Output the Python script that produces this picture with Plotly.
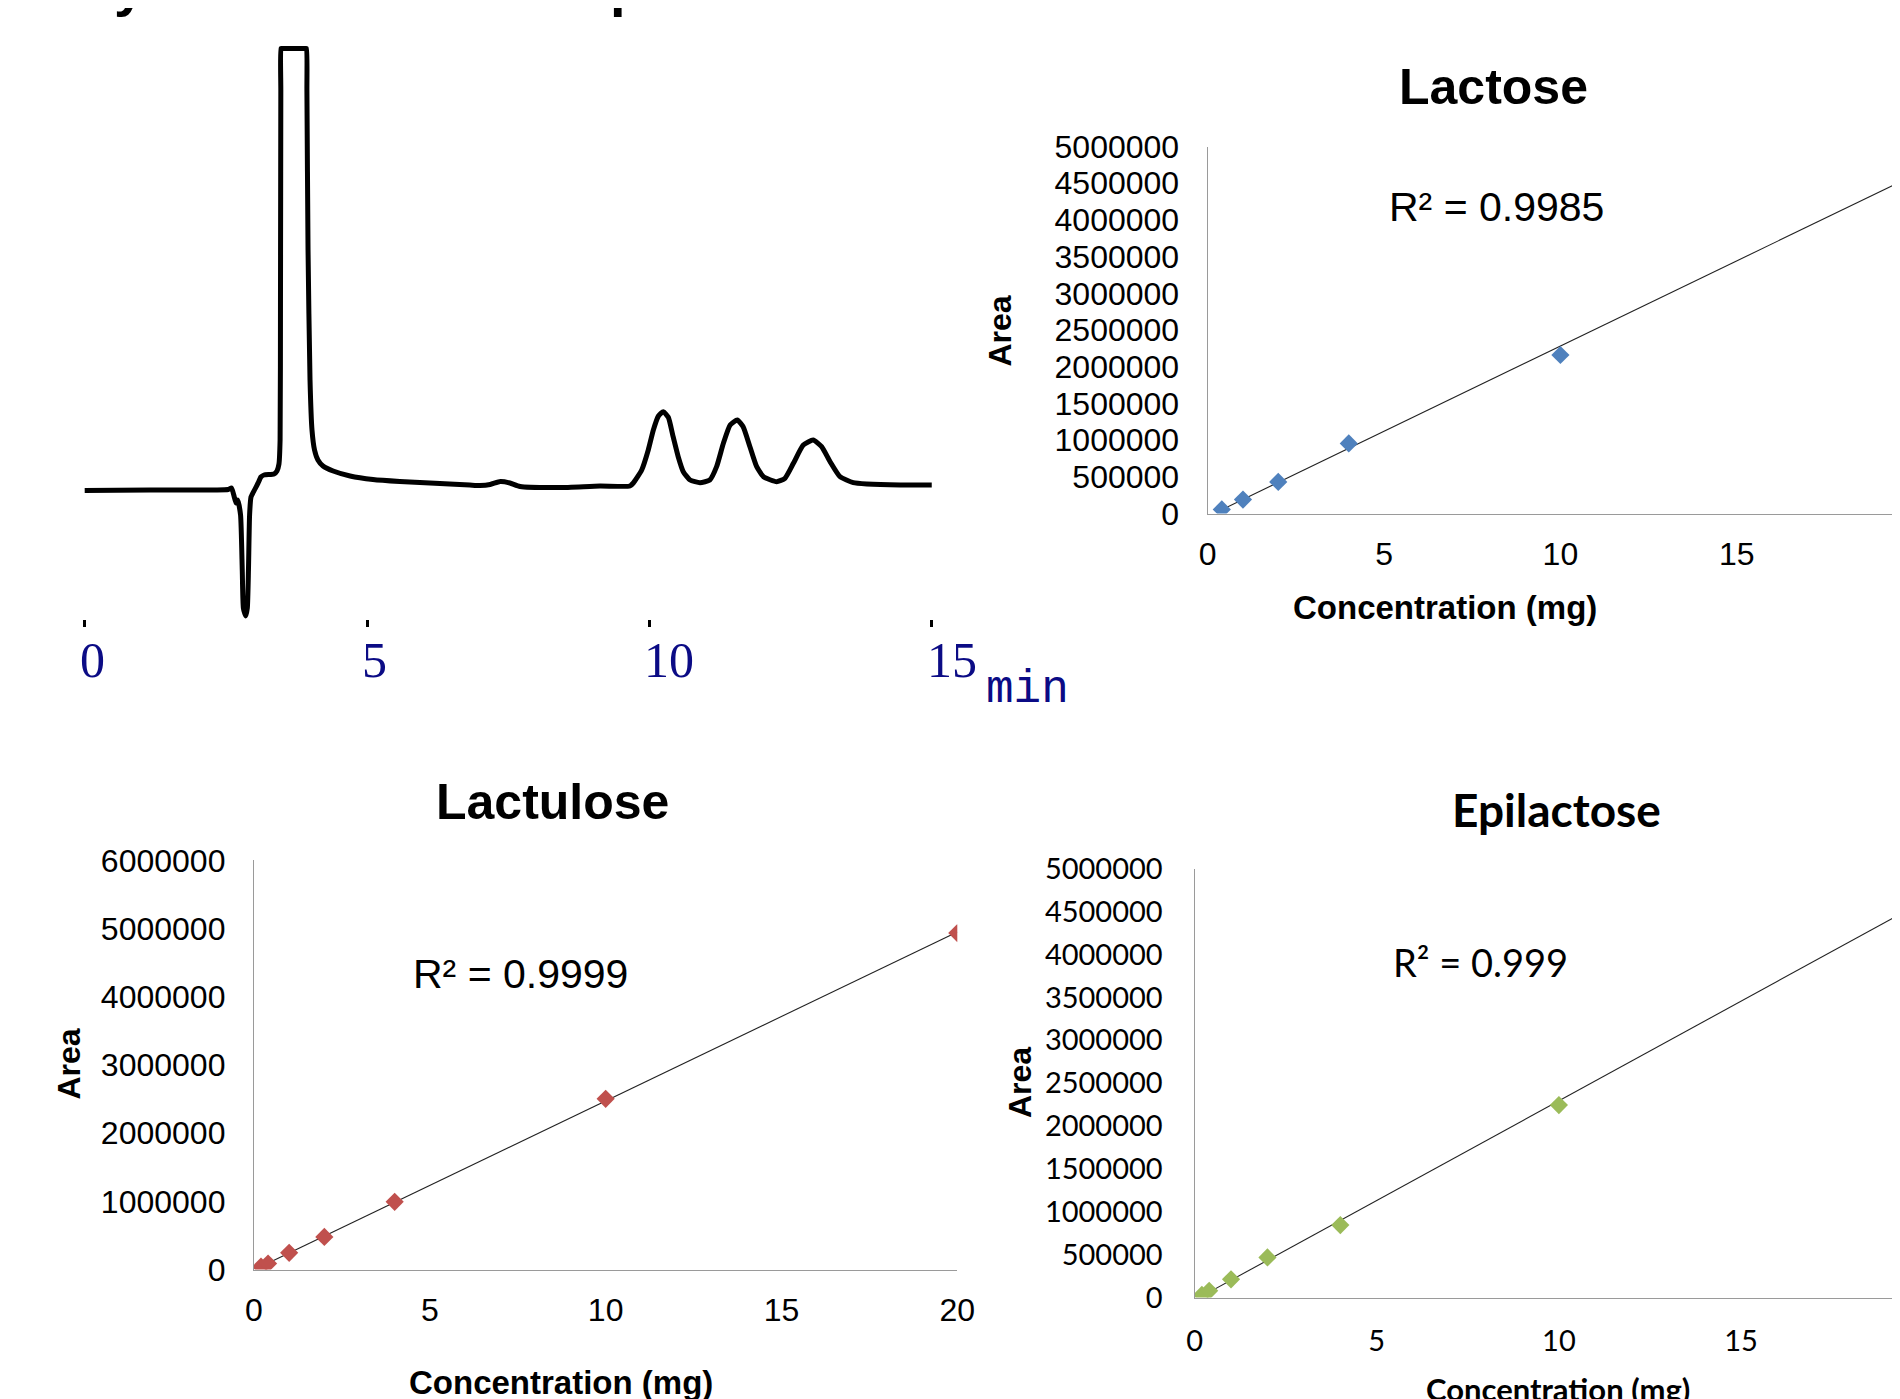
import numpy as np
import plotly.graph_objects as go

W, H = 1900, 1399
OFF = 8  # the page body places the figure 8 px right of and below the window corner

# ---------------- data ----------------
# Chromatogram: retention time (min) and detector signal (arbitrary units above baseline)
chrom_time = [0.0, 1.16, 2.54, 2.60, 2.64, 2.68, 2.71, 2.76, 2.79, 2.81, 2.85, 2.88, 2.90, 2.92,
              2.945, 3.016, 3.07, 3.12, 3.175, 3.352, 3.405, 3.44, 3.46, 3.467, 3.473, 3.475,
              3.49, 3.91, 3.928, 3.935,
              3.955, 3.99, 4.025, 4.07, 4.13, 4.22, 4.40, 4.70, 5.105, 5.58, 6.29, 6.82, 7.0,
              7.18, 7.36, 7.53, 7.71, 8.42, 9.125, 9.656, 9.715, 9.864, 9.98, 10.07, 10.16,
              10.246, 10.335, 10.42, 10.51, 10.60, 10.72, 10.896, 11.07, 11.19, 11.31, 11.43,
              11.556, 11.66, 11.78, 11.90, 12.02, 12.254, 12.40, 12.55, 12.725, 12.90, 13.05,
              13.20, 13.375, 13.61, 13.85, 14.44, 15.0]
chrom_signal = [-0.5, 0, 0.5, 2, -5, -13, -10, -25, -80, -118, -126, -118, -80, -25,
                -7, 1, 7, 13, 15, 16, 19, 26, 50, 190, 400, 441.5,
                441.5, 441.5, 441.5, 400,
                240, 110, 60, 40, 30, 24, 19, 14, 10.5, 8.5, 6.5, 5, 4.5,
                5.5, 8.5, 7, 3.5, 2.5, 4, 4, 7, 20, 40, 60, 74,
                78.3, 72.7, 53.3, 33.3, 18.3, 10, 7.3, 10, 23.3, 46.7, 65,
                70, 63.3, 43.3, 23.3, 13.3, 8.3, 11.7, 26.7, 45, 50, 43.3,
                28.3, 13.3, 7.3, 6, 5, 5]
chrom_ticks = [0, 5, 10, 15]
chrom_tick_labels = ["0", "5", "10", "15"]
chrom_unit = "min"

lactose_conc = [0.4, 1, 2, 4, 10, 20]
lactose_area = [55000, 190000, 430000, 955000, 2160000, 4650000]
lactose_r2 = "R² = 0.9985"

lactulose_conc = [0.2, 0.4, 1, 2, 4, 10, 20]
lactulose_area = [42000, 88000, 244000, 478000, 992000, 2503000, 4933000]
lactulose_r2 = "R² = 0.9999"

epilactose_conc = [0.2, 0.4, 1, 2, 4, 10, 20]
epilactose_area = [30000, 78000, 212000, 467000, 845000, 2244000, 4650000]
epilactose_r2 = "R² = 0.999"

x_title = "Concentration (mg)"
y_title = "Area"


# screen pixel -> paper fraction
def px(x):
    return (x - OFF) / W


def py(y):
    return 1 - (y - OFF) / H


def xrange_for(d0, d1, p0, k):
    """screen-pixel domain [d0, d1], value 0 at screen pixel p0, k px per unit"""
    return [(d0 - p0) / k, (d1 - p0) / k]


ARIAL = "Liberation Sans, Arial, sans-serif"
CALIBRI = "Lato, Open Sans, sans-serif"
AXCOL = "#9a9a9a"

fig = go.Figure()

# chromatogram
fig.add_trace(go.Scatter(x=chrom_time, y=chrom_signal, mode="lines",
                         line=dict(color="black", width=5, shape="spline", smoothing=0.5),
                         xaxis="x", yaxis="y", hoverinfo="skip"))


def add_cal(conc, area, color, xa, ya):
    b, a = np.polyfit(conc, area, 1)
    xs = [min(conc), max(conc)]
    fig.add_trace(go.Scatter(x=xs, y=[a + b * v for v in xs], mode="lines",
                             line=dict(color="#222222", width=1.1),
                             xaxis=xa, yaxis=ya, hoverinfo="skip"))
    fig.add_trace(go.Scatter(x=conc, y=area, mode="markers",
                             marker=dict(symbol="diamond", size=14, color=color),
                             xaxis=xa, yaxis=ya, cliponaxis=True))


add_cal(lactose_conc, lactose_area, "#4F81BD", "x2", "y2")
add_cal(lactulose_conc, lactulose_area, "#C0504D", "x3", "y3")
add_cal(epilactose_conc, epilactose_area, "#9BBB59", "x4", "y4")


def xax(dom, rng, font, standoff):
    return dict(domain=dom, range=rng, showline=True, linecolor=AXCOL, linewidth=1.3,
                showgrid=False, zeroline=False, ticks="", tick0=0, dtick=5,
                tickfont=font, ticklabelstandoff=standoff, fixedrange=True,
                automargin=False)


def yax(dom, rng, dt, font, standoff, anchor):
    return dict(domain=dom, range=rng, showline=True, linecolor=AXCOL, linewidth=1.3,
                showgrid=False, zeroline=False, ticks="", tick0=0, dtick=dt,
                tickformat="d", tickfont=font, ticklabelstandoff=standoff,
                anchor=anchor, fixedrange=True, automargin=False)


f_arial = dict(family=ARIAL, size=32, color="black")
f_cal = dict(family=CALIBRI, size=29, color="black")

RIGHT = W + OFF  # screen pixel of the figure's right edge

layout_axes = dict(
    xaxis=dict(domain=[px(OFF), px(1000)], range=xrange_for(OFF, 1000, 84.7, 56.47),
               showgrid=False, zeroline=False,
               showline=False, tickvals=chrom_ticks, ticks="outside", ticklen=7,
               tickwidth=3, tickcolor="black", showticklabels=False, anchor="y",
               fixedrange=True, automargin=False),
    yaxis=dict(domain=[py(619), py(30)], range=[-129, 460], visible=False, anchor="x",
               fixedrange=True, automargin=False),
    xaxis2=dict(**xax([px(1207.7), 1.0], xrange_for(1207.7, RIGHT, 1207.7, 35.27),
                      f_arial, 12), anchor="y2"),
    yaxis2=yax([py(513.5), py(146.6)], [0, 5000000], 500000, f_arial, 21, "x2"),
    xaxis3=dict(**xax([px(254.0), px(957.3)], [0, 20], f_arial, 12), anchor="y3"),
    yaxis3=yax([py(1269.5), py(860.3)], [0, 6000000], 1000000, f_arial, 21, "x3"),
    xaxis4=dict(**xax([px(1194.6), 1.0], xrange_for(1194.6, RIGHT, 1194.6, 36.43),
                      f_cal, 18), anchor="y4"),
    yaxis4=yax([py(1297.5), py(868.8)], [0, 5000000], 500000, f_cal, 25, "x4"),
)

ann = []


def text(t, x, y, size, family=ARIAL, bold=False, angle=0, color="black",
         xanchor="center", yanchor="middle"):
    ann.append(dict(text=("<b>%s</b>" % t) if bold else t, x=px(x), y=py(y),
                    xref="paper", yref="paper", showarrow=False, xanchor=xanchor,
                    yanchor=yanchor, textangle=angle,
                    font=dict(family=family, size=size, color=color)))


# remnants of a heading cropped at the top edge
text("y", 130, 18.5, 56, bold=True, yanchor="bottom")
text("p", 608, 18.5, 56, bold=True, xanchor="left", yanchor="bottom")

# chromatogram axis labels
for v, lab in zip(chrom_ticks, chrom_tick_labels):
    ann.append(dict(text=lab, x=v, xref="x", y=py(660), yref="paper", showarrow=False,
                    xanchor="left", yanchor="middle", xshift=-7,
                    font=dict(family="Liberation Serif, serif", size=50, color="#0b0b85")))
text(chrom_unit, 984, 690, 46, family="Liberation Mono, monospace", color="#0b0b85",
     xanchor="left")

# Lactose
text("Lactose", 1493.5, 87, 50, bold=True)
text(lactose_r2, 1496.5, 207, 41)
text(x_title, 1445, 607, 33, bold=True)
text(y_title, 999.5, 331, 32, bold=True, angle=-90)
text("20", 1914, 555, 32)

# Lactulose
text("Lactulose", 552, 802, 50, bold=True)
text(lactulose_r2, 520.7, 974, 41)
text(x_title, 561, 1382, 33, bold=True)
text(y_title, 68, 1064.5, 32, bold=True, angle=-90)

# Epilactose
text("Epilactose", 1556.5, 809, 46, family=CALIBRI, bold=True)
text(epilactose_r2, 1480, 962, 38, family=CALIBRI)
text(x_title, 1558, 1389, 31, family=CALIBRI, bold=True)
text(y_title, 1020, 1083, 32, bold=True, angle=-90)

fig.update_layout(width=W, height=H,
                  margin=dict(l=0, r=0, t=0, b=0, pad=0, autoexpand=False),
                  paper_bgcolor="white", plot_bgcolor="white", showlegend=False,
                  annotations=ann, **layout_axes)

fig.write_html("out.html")
